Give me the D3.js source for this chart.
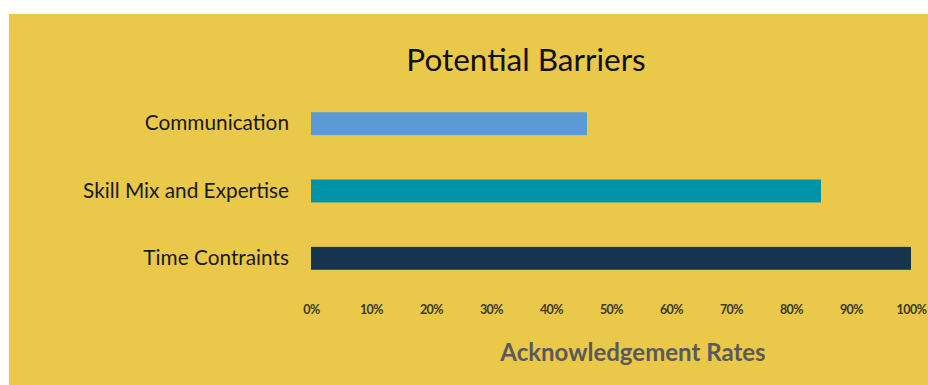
<!DOCTYPE html>
<html>
<head>
<meta charset="utf-8">
<script src="https://cdn.jsdelivr.net/npm/d3@7"></script>
<style>
  body { margin: 0; background: #fff; }
  svg { display: block; }
</style>
</head>
<body>
<svg width="928" height="385"></svg>
<script>
// chart data
const categories = ["Communication", "Skill Mix and Expertise", "Time Contraints"];
const values = [0.46, 0.85, 1.0];
const barColors = ["#5b9bd5", "#0092a6", "#17344f"];
const tickValues = [0, 0.1, 0.2, 0.3, 0.4, 0.5, 0.6, 0.7, 0.8, 0.9, 1.0];

const svg = d3.select("svg");

// yellow panel
svg.append("rect")
  .attr("x", 9).attr("y", 14)
  .attr("width", 919).attr("height", 371)
  .attr("fill", "#e9c84a");

let x = d3.scaleLinear().domain([0, 1]).range([311, 911]);
let y = d3.scaleBand().domain(categories).range([90, 292]).paddingInner(0.66).paddingOuter(0.33);

svg.append("text")
  .attr("x", 526).attr("y", 71)
  .attr("text-anchor", "middle")
  .style("font-family", "Lato")
  .style("font-size", "31.5px")
  .style("fill", "#111")
  .text("Potential Barriers");

// bars
svg.append("g")
  .selectAll("rect")
  .data(categories)
  .enter()
  .append("rect")
  .attr("x", x(0))
  .attr("y", d => y(d))
  .attr("width", (d, i) => x(values[i]) - x(0))
  .attr("height", y.bandwidth())
  .attr("fill", (d, i) => barColors[i]);

// category labels
let yAxis = d3.axisLeft(y).tickSize(0).tickPadding(22);
let yg = svg.append("g")
  .attr("transform", "translate(" + x(0) + ",0)")
  .call(yAxis);
yg.select(".domain").remove();
yg.selectAll("text")
  .style("font-family", "Lato")
  .style("font-size", "20.8px")
  .style("fill", "#1a1a1a");

// percent ticks
let xAxis = d3.axisBottom(x)
  .tickValues(tickValues)
  .tickSize(0)
  .tickPadding(0)
  .tickFormat(d3.format(".0%"));
let xg = svg.append("g")
  .attr("transform", "translate(0, 305)")
  .call(xAxis);
xg.select(".domain").remove();
xg.selectAll("text")
  .attr("dy", "0.71em")
  .style("font-family", "Lato")
  .style("font-weight", "bold")
  .style("font-size", "12.5px")
  .style("letter-spacing", "-0.5px")
  .style("fill", "#3d3a1f");

svg.append("text")
  .attr("x", 633).attr("y", 361)
  .attr("text-anchor", "middle")
  .style("font-family", "Lato")
  .style("font-weight", "bold")
  .style("font-size", "24px")
  .style("fill", "#5a5a5a")
  .text("Acknowledgement Rates");
</script>
</body>
</html>
